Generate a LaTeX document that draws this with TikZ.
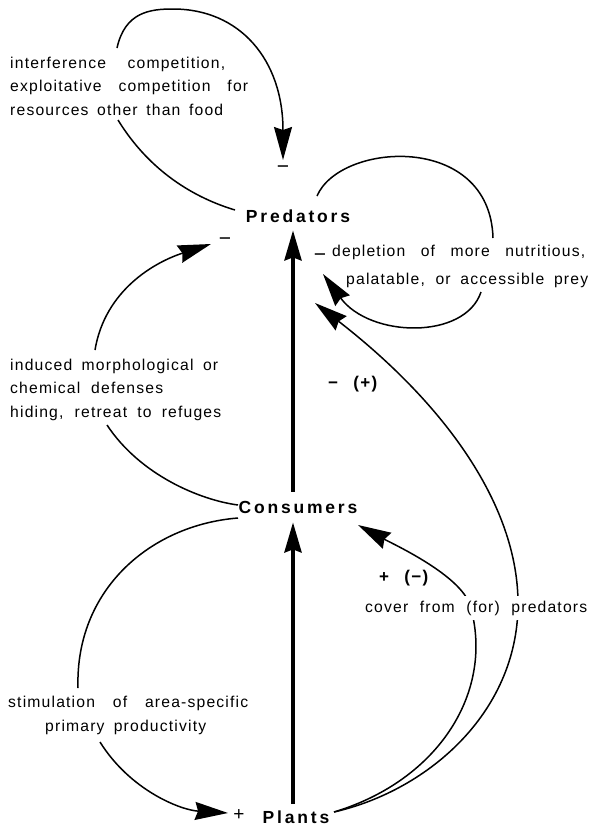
\documentclass[tikz,border=0pt]{standalone}
\usepackage{fontspec}
\setmainfont{Liberation Sans}
\newfontfamily\lblfont[LetterSpace=7.5]{Liberation Sans}
\newfontfamily\ttlfont[LetterSpace=16]{Liberation Sans}
\usetikzlibrary{arrows.meta}
\newcommand\spreadline[2]{\makebox[#1][s]{#2}}
\begin{document}
\begin{tikzpicture}[x=1pt,y=-1pt,
  lbl/.style={anchor=base west,inner sep=0pt,font=\lblfont\fontsize{15.7}{18}\selectfont,
    execute at begin node={\spaceskip=6pt plus 40pt minus 3pt\relax}},
  ttl/.style={anchor=base,inner sep=0pt,font=\ttlfont\bfseries\fontsize{17.5}{20}\selectfont},
  sgn/.style={inner sep=0pt,font=\fontsize{21}{22}\selectfont},
  bsgn/.style={anchor=base west,inner sep=0pt,font=\lblfont\bfseries\fontsize{17}{18}\selectfont,
    execute at begin node={\spaceskip=6pt plus 40pt minus 3pt\relax}},
  link/.style={line width=1.5pt},
  tip/.style={-{Stealth[length=33pt,width=18pt,inset=3pt]}},
  main/.style={line width=4pt,-{Stealth[length=30pt,width=17pt,inset=3pt]}}]
\useasboundingbox[fill=white] (0,0) rectangle (590,830);

% main compartments
\node[ttl] (pred) at (298,222) {Predators};
\node[ttl] (cons) at (298,513) {Consumers};
\node[ttl] (plan) at (296,823) {Plants};
\coordinate (col) at (293,0);

\draw[main,shorten <=9pt,shorten >=8pt] (cons.north -| col) -- (pred.south -| col);
\draw[main,shorten <=6pt,shorten >=9pt] (plan.north -| col) -- (cons.south -| col);

% signs
\node[sgn] (m1) at (283,170) {−};
\node[sgn] (m2) at (225,242) {−};
\node[sgn] (m3) at (320,258) {−};
\node[font=\fontsize{19}{20}\selectfont,inner sep=0pt] (plus) at (239,815) {+};

% interference loop
\coordinate (a1) at (117,48);
\coordinate (a0) at (173,9);
\coordinate (a2) at (283,160);
\coordinate (a3) at (118,120);
\coordinate (a4) at (235,210);
\draw[link,tip] (a1) .. controls (125,12) and (150,9) .. (a0)
  .. controls (240,9) and (283,60) .. (a2);
\draw[link] (a3) .. controls (150,172) and (195,198) .. (a4);
\node[lbl] (t1a) at (10,68) {\spreadline{215pt}{interference competition,}};
\node[lbl] (t1b) at (10,91.5) {\spreadline{238pt}{exploitative competition for}};
\node[lbl] (t1c) at (10,115) {\spreadline{213pt}{resources other than food}};

% self loop of predators
\coordinate (b1) at (317,196);
\coordinate (b2) at (493,238);
\coordinate (b3) at (481,292);
\coordinate (b4) at (323,274);
\draw[link] (b1) .. controls (340,142) and (490,132) .. (b2);
\draw[link,tip] (b3) .. controls (465,340) and (370,338) .. (b4);
\node[lbl] (t2a) at (332,256) {\spreadline{253pt}{depletion of more nutritious,}};
\node[lbl] (t2b) at (346,284) {\spreadline{242pt}{palatable, or accessible prey}};

% induced defenses
\coordinate (d1) at (95,350);
\coordinate (d2) at (211,244);
\coordinate (d3) at (107,425);
\coordinate (d4) at (238,505);
\draw[link,tip] (d1) .. controls (105,290) and (155,262) .. (d2);
\draw[link] (d3) .. controls (140,475) and (200,500) .. (d4);
\node[lbl] (t3a) at (10,370) {\spreadline{208pt}{induced morphological or}};
\node[lbl] (t3b) at (10,393) {\spreadline{153pt}{chemical defenses}};
\node[lbl] (t3c) at (10,417) {\spreadline{211pt}{hiding, retreat to refuges}};

% stimulation of productivity
\coordinate (s1) at (238,518);
\coordinate (s2) at (78,688);
\coordinate (s3) at (100,742);
\coordinate (s4) at (228,813);
\draw[link] (s1) .. controls (150,525) and (75,590) .. (s2);
\draw[link,tip] (s3) .. controls (130,790) and (180,810) .. (s4);
\node[lbl] (t4a) at (8,707) {\spreadline{240pt}{stimulation of area-specific}};
\node[lbl] (t4b) at (45,731) {\spreadline{161pt}{primary productivity}};

% plants -> predators and plants -> consumers
\coordinate (p1) at (334,812);
\coordinate (e1) at (315,303);
\coordinate (e2) at (358,525);
\draw[link,tip] (p1) .. controls (430,790) and (520,710) .. (518,600)
  .. controls (516,500) and (440,400) .. (e1);
\draw[link,tip] (p1) .. controls (440,780) and (495,690) .. (470,605)
  .. controls (460,575) and (395,545) .. (e2);
\node[lbl,fill=white,inner xsep=2pt,inner ysep=5pt] (t5) at (363,612) {\spreadline{222pt}{cover from (for) predators}};
\node[bsgn] (t6) at (328,388) {\spreadline{49pt}{− (+)}};
\node[bsgn] (t7) at (379,582) {\spreadline{49pt}{+ (−)}};
\end{tikzpicture}
\end{document}
